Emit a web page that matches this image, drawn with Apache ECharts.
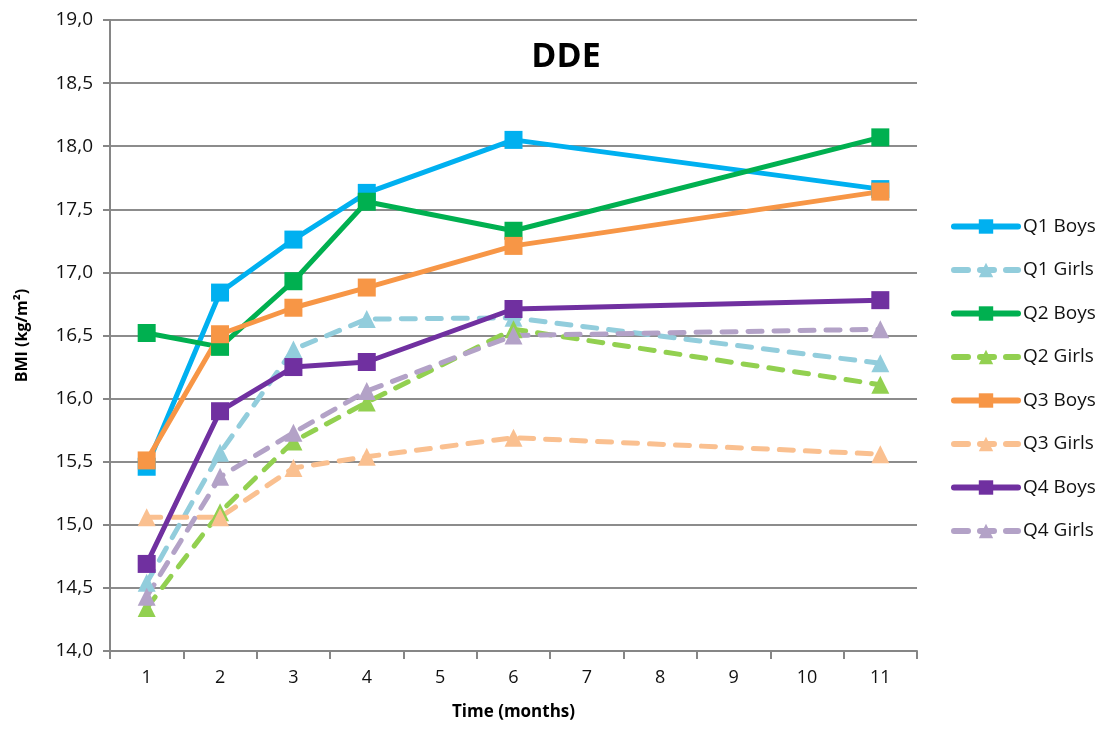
<!DOCTYPE html>
<html>
<head>
<meta charset="utf-8">
<script src="https://cdn.jsdelivr.net/npm/echarts@6/dist/echarts.min.js"></script>
<style>html,body{margin:0;padding:0;background:#fff}#c{width:1103px;height:731px}</style>
</head>
<body>
<div id="c"></div>
<script>
const categories = ['1','2','3','4','5','6','7','8','9','10','11'];
const q1Boys  = [15.46, 16.84, 17.26, 17.63, null, 18.05, null, null, null, null, 17.66];
const q1Girls = [14.54, 15.57, 16.39, 16.63, null, 16.64, null, null, null, null, 16.28];
const q2Boys  = [16.52, 16.41, 16.93, 17.56, null, 17.33, null, null, null, null, 18.07];
const q2Girls = [14.34, 15.10, 15.66, 15.97, null, 16.55, null, null, null, null, 16.11];
const q3Boys  = [15.51, 16.51, 16.72, 16.88, null, 17.21, null, null, null, null, 17.64];
const q3Girls = [15.06, 15.06, 15.45, 15.54, null, 15.69, null, null, null, null, 15.56];
const q4Boys  = [14.69, 15.90, 16.25, 16.29, null, 16.71, null, null, null, null, 16.78];
const q4Girls = [14.43, 15.38, 15.73, 16.06, null, 16.50, null, null, null, null, 16.55];
const seriesNames = ['Q1 Boys','Q1 Girls','Q2 Boys','Q2 Girls','Q3 Boys','Q3 Girls','Q4 Boys','Q4 Girls'];
const seriesData = [q1Boys,q1Girls,q2Boys,q2Girls,q3Boys,q3Girls,q4Boys,q4Girls];
const colors = ['#00B0F0','#92CDDC','#00B050','#92D050','#F79646','#FAC090','#7030A0','#B3A2C7'];

const chart = echarts.init(document.getElementById('c'), null, {renderer:'canvas'});
const series = seriesNames.map((name, i) => {
  const girl = name.indexOf('Girls') >= 0;
  return {
    name: name,
    type: 'line',
    data: seriesData[i],
    connectNulls: true,
    symbol: girl ? 'triangle' : 'rect',
    symbolSize: 18,
    color: colors[i],
    lineStyle: {color: colors[i], width: 5, type: girl ? [14, 12] : 'solid', cap: 'round'},
    itemStyle: {color: colors[i]},
    emphasis: {disabled: true},
    z: girl ? 2 : 3
  };
});
chart.setOption({
  animation: false,
  backgroundColor: '#fff',
  title: {text: 'DDE', left: 561, top: 35, textAlign: 'center',
    textStyle: {fontFamily: 'Open Sans', fontSize: 34, fontWeight: 'bold', color: '#000'}},
  grid: {left: 110, right: 186, top: 20, bottom: 80},
  legend: {
    orient: 'vertical', left: 946, top: 212, itemWidth: 64, itemHeight: 18, itemGap: 24.5,
    textStyle: {fontFamily: 'Open Sans', fontSize: 19, color: '#111'},
    lineStyle: {width: 6},
    data: seriesNames
  },
  xAxis: {
    type: 'category', data: categories, boundaryGap: true,
    name: 'Time (months)', nameLocation: 'middle', nameGap: 53,
    nameTextStyle: {fontFamily: 'Open Sans', fontSize: 17, fontWeight: 'bold', color: '#000'},
    axisLine: {lineStyle: {color: '#868686', width: 2}},
    axisTick: {show: true, length: 8, lineStyle: {color: '#868686', width: 2}, alignWithLabel: false},
    axisLabel: {fontFamily: 'Open Sans', fontSize: 18, color: '#111', margin: 18},
    splitLine: {show: false}
  },
  yAxis: {
    type: 'value', min: 14, max: 19, interval: 0.5,
    name: 'BMI (kg/m²)', nameLocation: 'middle', nameGap: 80,
    nameTextStyle: {fontFamily: 'Open Sans', fontSize: 16, fontWeight: 'bold', color: '#000'},
    axisLine: {show: true, lineStyle: {color: '#868686', width: 2}},
    axisTick: {show: true, length: 7, inside: false, lineStyle: {color: '#868686', width: 2}},
    axisLabel: {fontFamily: 'Open Sans', fontSize: 19, color: '#111', margin: 17,
      formatter: v => v.toFixed(1).replace('.', ',')},
    splitLine: {show: true, lineStyle: {color: '#8c8c8c', width: 2}}
  },
  series: series
});
</script>
</body>
</html>
